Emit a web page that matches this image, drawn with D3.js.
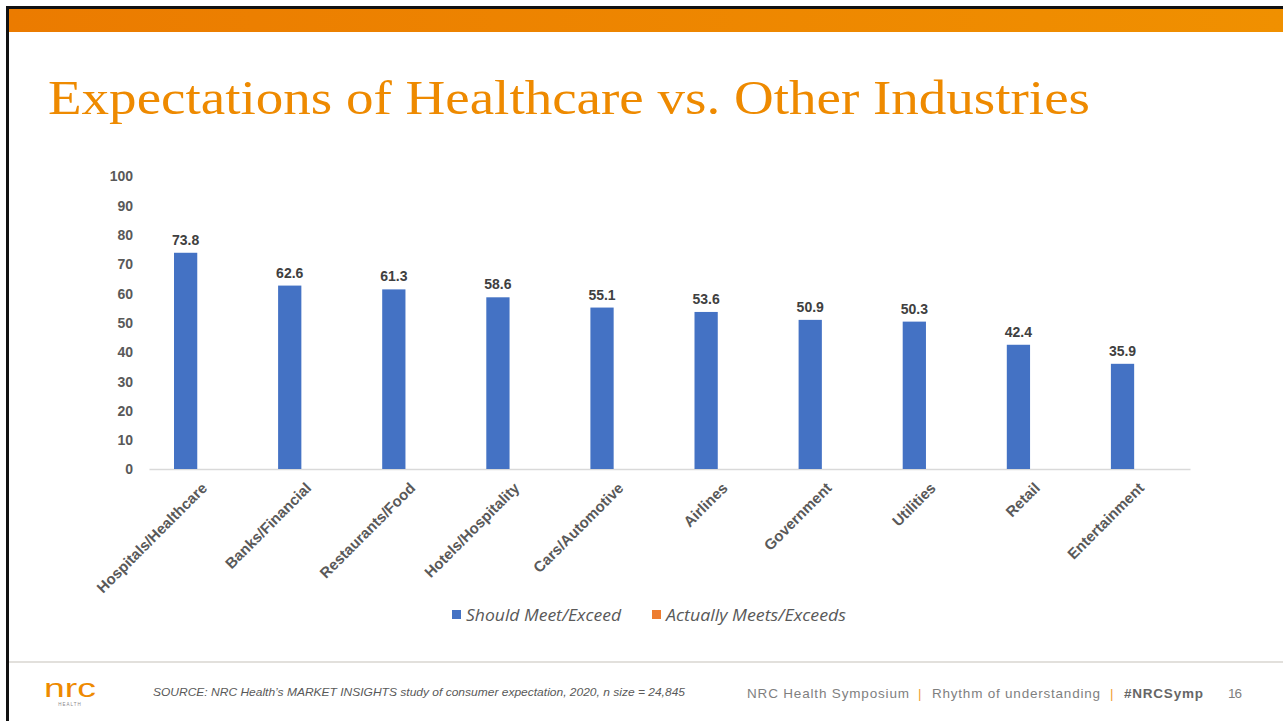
<!DOCTYPE html>
<html><head><meta charset="utf-8">
<script src="https://cdn.jsdelivr.net/npm/d3@7"></script>
<style>html,body{margin:0;padding:0;background:#fff;}svg{display:block;}</style>
</head><body>
<svg id="c" width="1283" height="721"></svg>
<script>
const categories = ["Hospitals/Healthcare","Banks/Financial","Restaurants/Food","Hotels/Hospitality","Cars/Automotive","Airlines","Government","Utilities","Retail","Entertainment"];
const shouldMeet = [73.8,62.6,61.3,58.6,55.1,53.6,50.9,50.3,42.4,35.9];
const actuallyMeets = [null,null,null,null,null,null,null,null,null,null];
const yTicks = [0,10,20,30,40,50,60,70,80,90,100];
const seriesNames = ["Should Meet/Exceed","Actually Meets/Exceeds"];
const seriesColors = ["#4472C4","#ED7D31"];

const svg = d3.select("#c");
const defs = svg.append("defs");
const g1 = defs.append("linearGradient").attr("id","band").attr("x1","0").attr("x2","1");
g1.append("stop").attr("offset","0").attr("stop-color","#EB7B00");
g1.append("stop").attr("offset","1").attr("stop-color","#F09000");

// frame
svg.append("rect").attr("x",6).attr("y",6).attr("width",1277).attr("height",3).attr("fill","#111");
svg.append("rect").attr("x",6).attr("y",6).attr("width",3).attr("height",715).attr("fill","#111");
svg.append("rect").attr("x",9).attr("y",9).attr("width",1274).attr("height",23).attr("fill","url(#band)");

// title
svg.append("text").attr("x",48).attr("y",114)
  .attr("font-family","'Liberation Serif', serif").attr("font-size",49)
  .attr("fill","#EE8A00").attr("textLength",1042).attr("lengthAdjust","spacingAndGlyphs")
  .text("Expectations of Healthcare vs. Other Industries");

// scales
const x = d3.scaleBand().domain(categories).range([149,1190]).paddingInner(0).paddingOuter(0);
const sub = d3.scaleBand().domain(seriesNames).range([25,73]).paddingInner(0.06);
const y = d3.scaleLinear().domain([0,100]).range([469,176]);

// y axis labels
const yAxis = d3.axisLeft(y).tickValues(yTicks).tickSize(0).tickPadding(0);
const ya = svg.append("g").attr("transform","translate(133,0)").call(yAxis);
ya.select(".domain").remove();
ya.selectAll("text").attr("font-family","'Liberation Sans', Arial, sans-serif")
  .attr("font-size",14).attr("font-weight","bold").attr("fill","#595959").attr("dy","0.35em");

// baseline
const xa = svg.append("g").attr("transform","translate(0,469)")
  .call(d3.axisBottom(x).tickSize(0).tickFormat(""));
xa.select(".domain").attr("stroke","#D9D9D9").attr("stroke-width",1.3);

// bars
const series = [shouldMeet, actuallyMeets];
series.forEach((vals,si)=>{
  svg.append("g").selectAll("rect").data(categories.map((c,i)=>({c,v:vals[i]})).filter(d=>d.v!=null))
    .join("rect")
    .attr("x",d=>x(d.c)+sub(seriesNames[si]))
    .attr("width",sub.bandwidth())
    .attr("y",d=>y(d.v)).attr("height",d=>y(0)-y(d.v))
    .attr("fill",seriesColors[si]);
  svg.append("g").selectAll("text").data(categories.map((c,i)=>({c,v:vals[i]})).filter(d=>d.v!=null))
    .join("text")
    .attr("x",d=>x(d.c)+sub(seriesNames[si])+sub.bandwidth()/2)
    .attr("y",d=>y(d.v)-8)
    .attr("text-anchor","middle")
    .attr("font-family","'Liberation Sans', Arial, sans-serif").attr("font-size",14)
    .attr("font-weight","bold").attr("fill","#404040")
    .text(d=>d.v.toFixed(1));
});

// x labels
svg.append("g").selectAll("text").data(categories).join("text")
  .attr("transform",d=>`translate(${x(d)+x.bandwidth()/2+7},${489}) rotate(-45)`)
  .attr("text-anchor","end")
  .attr("font-family","'Liberation Sans', Arial, sans-serif").attr("font-size",15)
  .attr("font-weight","bold").attr("fill","#595959")
  .text(d=>d);

// legend
const leg = [{n:seriesNames[0],c:seriesColors[0],x:452,w:155},{n:seriesNames[1],c:seriesColors[1],x:652,w:180}];
leg.forEach(l=>{
  svg.append("rect").attr("x",l.x).attr("y",610).attr("width",9).attr("height",9).attr("fill",l.c);
  svg.append("text").attr("x",l.x+14).attr("y",621)
    .attr("font-family","'Open Sans', sans-serif").attr("font-style","italic").attr("font-size",16)
    .attr("fill","#595959").attr("textLength",l.w).attr("lengthAdjust","spacingAndGlyphs").text(l.n);
});

// footer line
svg.append("line").attr("x1",9).attr("x2",1283).attr("y1",662).attr("y2",662).attr("stroke","#D9D6D0").attr("stroke-width",1.5);

// logo
svg.append("text").attr("x",44).attr("y",697).attr("font-family","'Liberation Sans', Arial, sans-serif")
  .attr("font-size",26).attr("fill","#EE8A00").attr("textLength",52).attr("lengthAdjust","spacingAndGlyphs").text("nrc");
svg.append("text").attr("x",70).attr("y",706).attr("text-anchor","middle").attr("font-family","'Liberation Sans', Arial, sans-serif")
  .attr("font-size",4.5).attr("letter-spacing",1).attr("fill","#888").text("HEALTH");

// source
svg.append("text").attr("x",153).attr("y",696)
  .attr("font-family","'Liberation Sans', Arial, sans-serif").attr("font-style","italic").attr("font-size",11)
  .attr("fill","#595959").attr("textLength",532).attr("lengthAdjust","spacingAndGlyphs")
  .text("SOURCE: NRC Health\u2019s MARKET INSIGHTS study of consumer expectation, 2020, n size = 24,845");

// right footer
const footerParts = [
  {t:"NRC Health Symposium", x:747, w:162, c:"#7F7F7F", b:false},
  {t:"|", x:918, w:2, c:"#F0A030", b:false},
  {t:"Rhythm of understanding", x:932, w:168, c:"#7F7F7F", b:false},
  {t:"|", x:1110, w:2, c:"#F0A030", b:false},
  {t:"#NRCSymp", x:1124, w:79, c:"#666666", b:true},
  {t:"16", x:1228, w:14, c:"#7F7F7F", b:false}
];
footerParts.forEach(p=>{
  const t = svg.append("text").attr("x",p.x).attr("y",698)
    .attr("font-family","'Liberation Sans', Arial, sans-serif").attr("font-size",13.5)
    .attr("font-weight",p.b?"bold":"normal").attr("fill",p.c).text(p.t);
  if (p.t !== "|") t.attr("textLength",p.w).attr("lengthAdjust","spacing");
});
</script>
</body></html>
